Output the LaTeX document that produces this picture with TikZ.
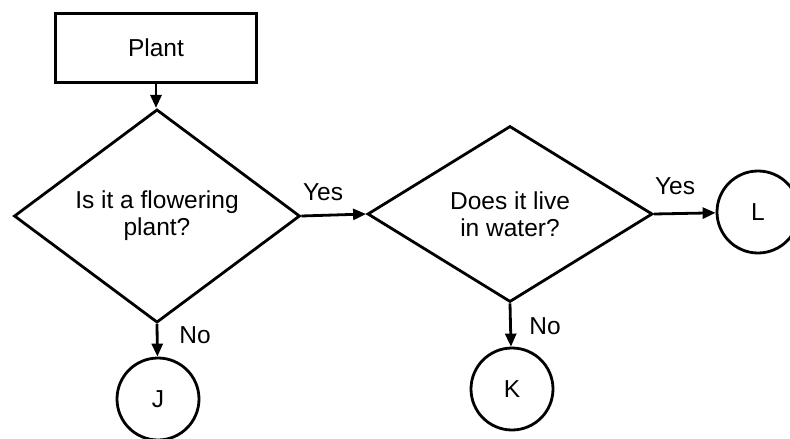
\documentclass[tikz,border=0pt]{standalone}
\usepackage{fontspec}
\setmainfont{Liberation Sans}
\usetikzlibrary{shapes.geometric,arrows.meta}
\begin{document}
\begin{tikzpicture}[x=1pt,y=-1pt,
  every node/.style={font=\fontsize{24.5}{27}\selectfont, align=center},
  arr/.style={line width=2.8pt,-{Triangle[length=13pt,width=11pt]}},
  boxnode/.style={draw, line width=3pt, minimum width=201pt, minimum height=69pt, inner sep=0pt},
  decision/.style={draw, diamond, line width=2.8pt, inner sep=0pt},
  endnode/.style={draw, circle, line width=2.8pt, minimum size=82pt, inner sep=0pt},
  lbl/.style={inner sep=0pt}]
\useasboundingbox (0,0) rectangle (790,439);
\node[boxnode] (plant) at (156,48) {Plant};
\node[decision, minimum width=286pt, minimum height=176pt] (d1) at (157,216) {Is it a flowering\\plant?};
\node[decision, minimum width=285pt, minimum height=176pt] (d2) at (510,214) {Does it live\\in water?};
\node[endnode] (J) at (158,399) {J};
\node[endnode] (K) at (512,389) {K};
\node[endnode] (L) at (758,212) {L};
\draw[arr] (plant.south) -- (plant.south |- d1.north);
\draw[arr] (d1.east) -- (d2.west);
\draw[arr] (d2.east) -- (L);
\draw[arr] (d1.south) -- (J);
\draw[arr] (d2.south) -- (K);
\node[lbl] (yes1) at (323,192) {Yes};
\node[lbl] (yes2) at (675,186) {Yes};
\node[lbl] (no1) at (195,335) {No};
\node[lbl] (no2) at (545,326) {No};
\end{tikzpicture}
\end{document}
